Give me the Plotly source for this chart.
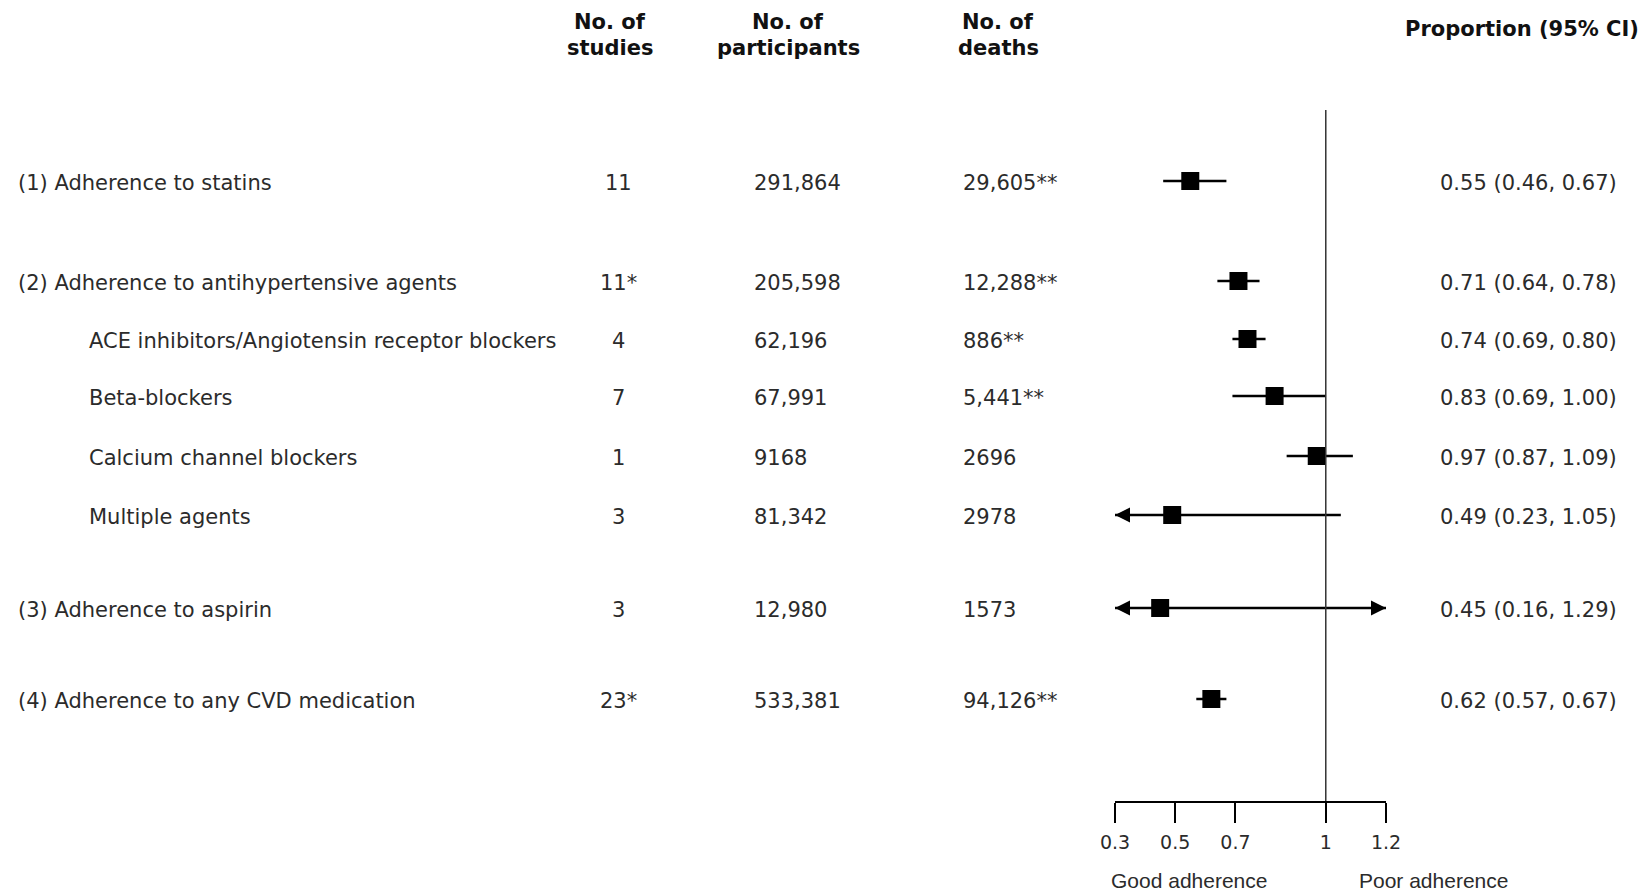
import plotly.graph_objects as go

# ---------------- data ----------------
labels = ["(1) Adherence to statins",
          "(2) Adherence to antihypertensive agents",
          "ACE inhibitors/Angiotensin receptor blockers",
          "Beta-blockers",
          "Calcium channel blockers",
          "Multiple agents",
          "(3) Adherence to aspirin",
          "(4) Adherence to any CVD medication"]
indent = [0, 0, 1, 1, 1, 1, 0, 0]
studies = ["11", "11*", "4", "7", "1", "3", "3", "23*"]
participants = ["291,864", "205,598", "62,196", "67,991", "9168", "81,342", "12,980", "533,381"]
deaths = ["29,605**", "12,288**", "886**", "5,441**", "2696", "2978", "1573", "94,126**"]
est = [0.55, 0.71, 0.74, 0.83, 0.97, 0.49, 0.45, 0.62]
lo = [0.46, 0.64, 0.69, 0.69, 0.87, 0.23, 0.16, 0.57]
hi = [0.67, 0.78, 0.80, 1.00, 1.09, 1.05, 1.29, 0.67]
tick_vals = [0.3, 0.5, 0.7, 1, 1.2]
tick_text = ["0.3", "0.5", "0.7", "1", "1.2"]
headers = [("No. of", "studies"), ("No. of", "participants"), ("No. of", "deaths")]

# ---------------- layout geometry (pixels) ----------------
W, H = 1648, 894
row_y = [181, 281, 339, 396, 456, 515, 608, 699]
text_dy = 2
AX_BOTTOM, AX_TOP = 801, 110
X_LEFT, X_RIGHT = 1115, 1386
XMIN, XMAX = 0.3, 1.2
FONT = "DejaVu Sans"
TXT = "#2b2b2b"
ROW_SIZE = 21

def px(x):
    return x / W

def py(y):
    return 1 - y / H

fig = go.Figure()

# CI lines (clipped to axis range)
lx, ly = [], []
for l, h, y in zip(lo, hi, row_y):
    lx += [max(l, XMIN), min(h, XMAX), None]
    ly += [y, y, None]
fig.add_trace(go.Scatter(x=lx, y=ly, mode="lines",
                         line=dict(color="black", width=2.5),
                         hoverinfo="skip", showlegend=False, cliponaxis=False))
# point estimates
fig.add_trace(go.Scatter(x=est, y=row_y, mode="markers",
                         marker=dict(symbol="square", size=18, color="black",
                                     line=dict(width=0)),
                         showlegend=False, cliponaxis=False))

annotations = []
# arrows for clipped intervals
for l, h, y in zip(lo, hi, row_y):
    if l < XMIN:
        annotations.append(dict(x=XMIN, y=y, ax=XMIN + 0.035, ay=y, xref="x", yref="y",
                                axref="x", ayref="y", showarrow=True, arrowhead=2,
                                arrowsize=1.2, arrowwidth=2.5, arrowcolor="black", text=""))
    if h > XMAX:
        annotations.append(dict(x=XMAX, y=y, ax=XMAX - 0.035, ay=y, xref="x", yref="y",
                                axref="x", ayref="y", showarrow=True, arrowhead=2,
                                arrowsize=1.2, arrowwidth=2.5, arrowcolor="black", text=""))

def txt(text, x, y, anchor="left", size=ROW_SIZE, bold=False, color=TXT, family=FONT, yref="y"):
    annotations.append(dict(text=("<b>%s</b>" % text) if bold else text,
                            x=px(x), y=y, xref="paper", yref=yref,
                            xanchor=anchor, yanchor="middle", showarrow=False,
                            font=dict(family=family, size=size, color=color)))

# rows text
for i, y in enumerate(row_y):
    yy = y + text_dy
    txt(labels[i], 16 if indent[i] == 0 else 87, yy)
    txt(studies[i], 618, yy, anchor="center")
    txt(participants[i], 752, yy)
    txt(deaths[i], 961, yy)
    txt("%.2f (%.2f, %.2f)" % (est[i], lo[i], hi[i]), 1438, yy)

# headers
for (l1, l2), cx in zip(headers, [610, 788, 998]):
    txt(l1, cx, py(22), anchor="center", bold=True, color="#111", yref="paper")
    txt(l2, cx, py(48), anchor="center", bold=True, color="#111", yref="paper")
txt("Proportion (95% CI)", 1641, py(29), anchor="right", bold=True, color="#111", yref="paper")

# axis captions
txt("Good adherence", 1189, py(880), anchor="center", size=21, family="Liberation Sans", yref="paper")
txt("Poor adherence", 1433, py(880), anchor="center", size=21, family="Liberation Sans", yref="paper")

# reference line at 1
fig.add_shape(type="line", x0=1, x1=1, xref="x", y0=0, y1=1, yref="y domain",
              line=dict(color="#333", width=1.5))

fig.update_layout(
    width=W, height=H, margin=dict(l=0, r=0, t=0, b=0, pad=0, autoexpand=False),
    paper_bgcolor="white", plot_bgcolor="white",
    annotations=annotations,
    xaxis=dict(domain=[px(X_LEFT), px(X_RIGHT)], range=[XMIN, XMAX],
               tickvals=tick_vals, ticktext=tick_text, automargin=False,
               showline=True, linecolor="black", linewidth=2,
               ticks="outside", ticklen=20, tickwidth=2, tickcolor="black",
               showgrid=False, zeroline=False, ticklabelstandoff=3,
               tickfont=dict(family=FONT, size=19, color=TXT)),
    yaxis=dict(domain=[py(AX_BOTTOM), py(AX_TOP)], range=[AX_BOTTOM, AX_TOP],
               visible=False, showgrid=False, zeroline=False, automargin=False),
)

fig.write_html("out.html", config={"displayModeBar": False},
               post_script="document.body.style.margin='0px';document.body.style.overflow='hidden';")
